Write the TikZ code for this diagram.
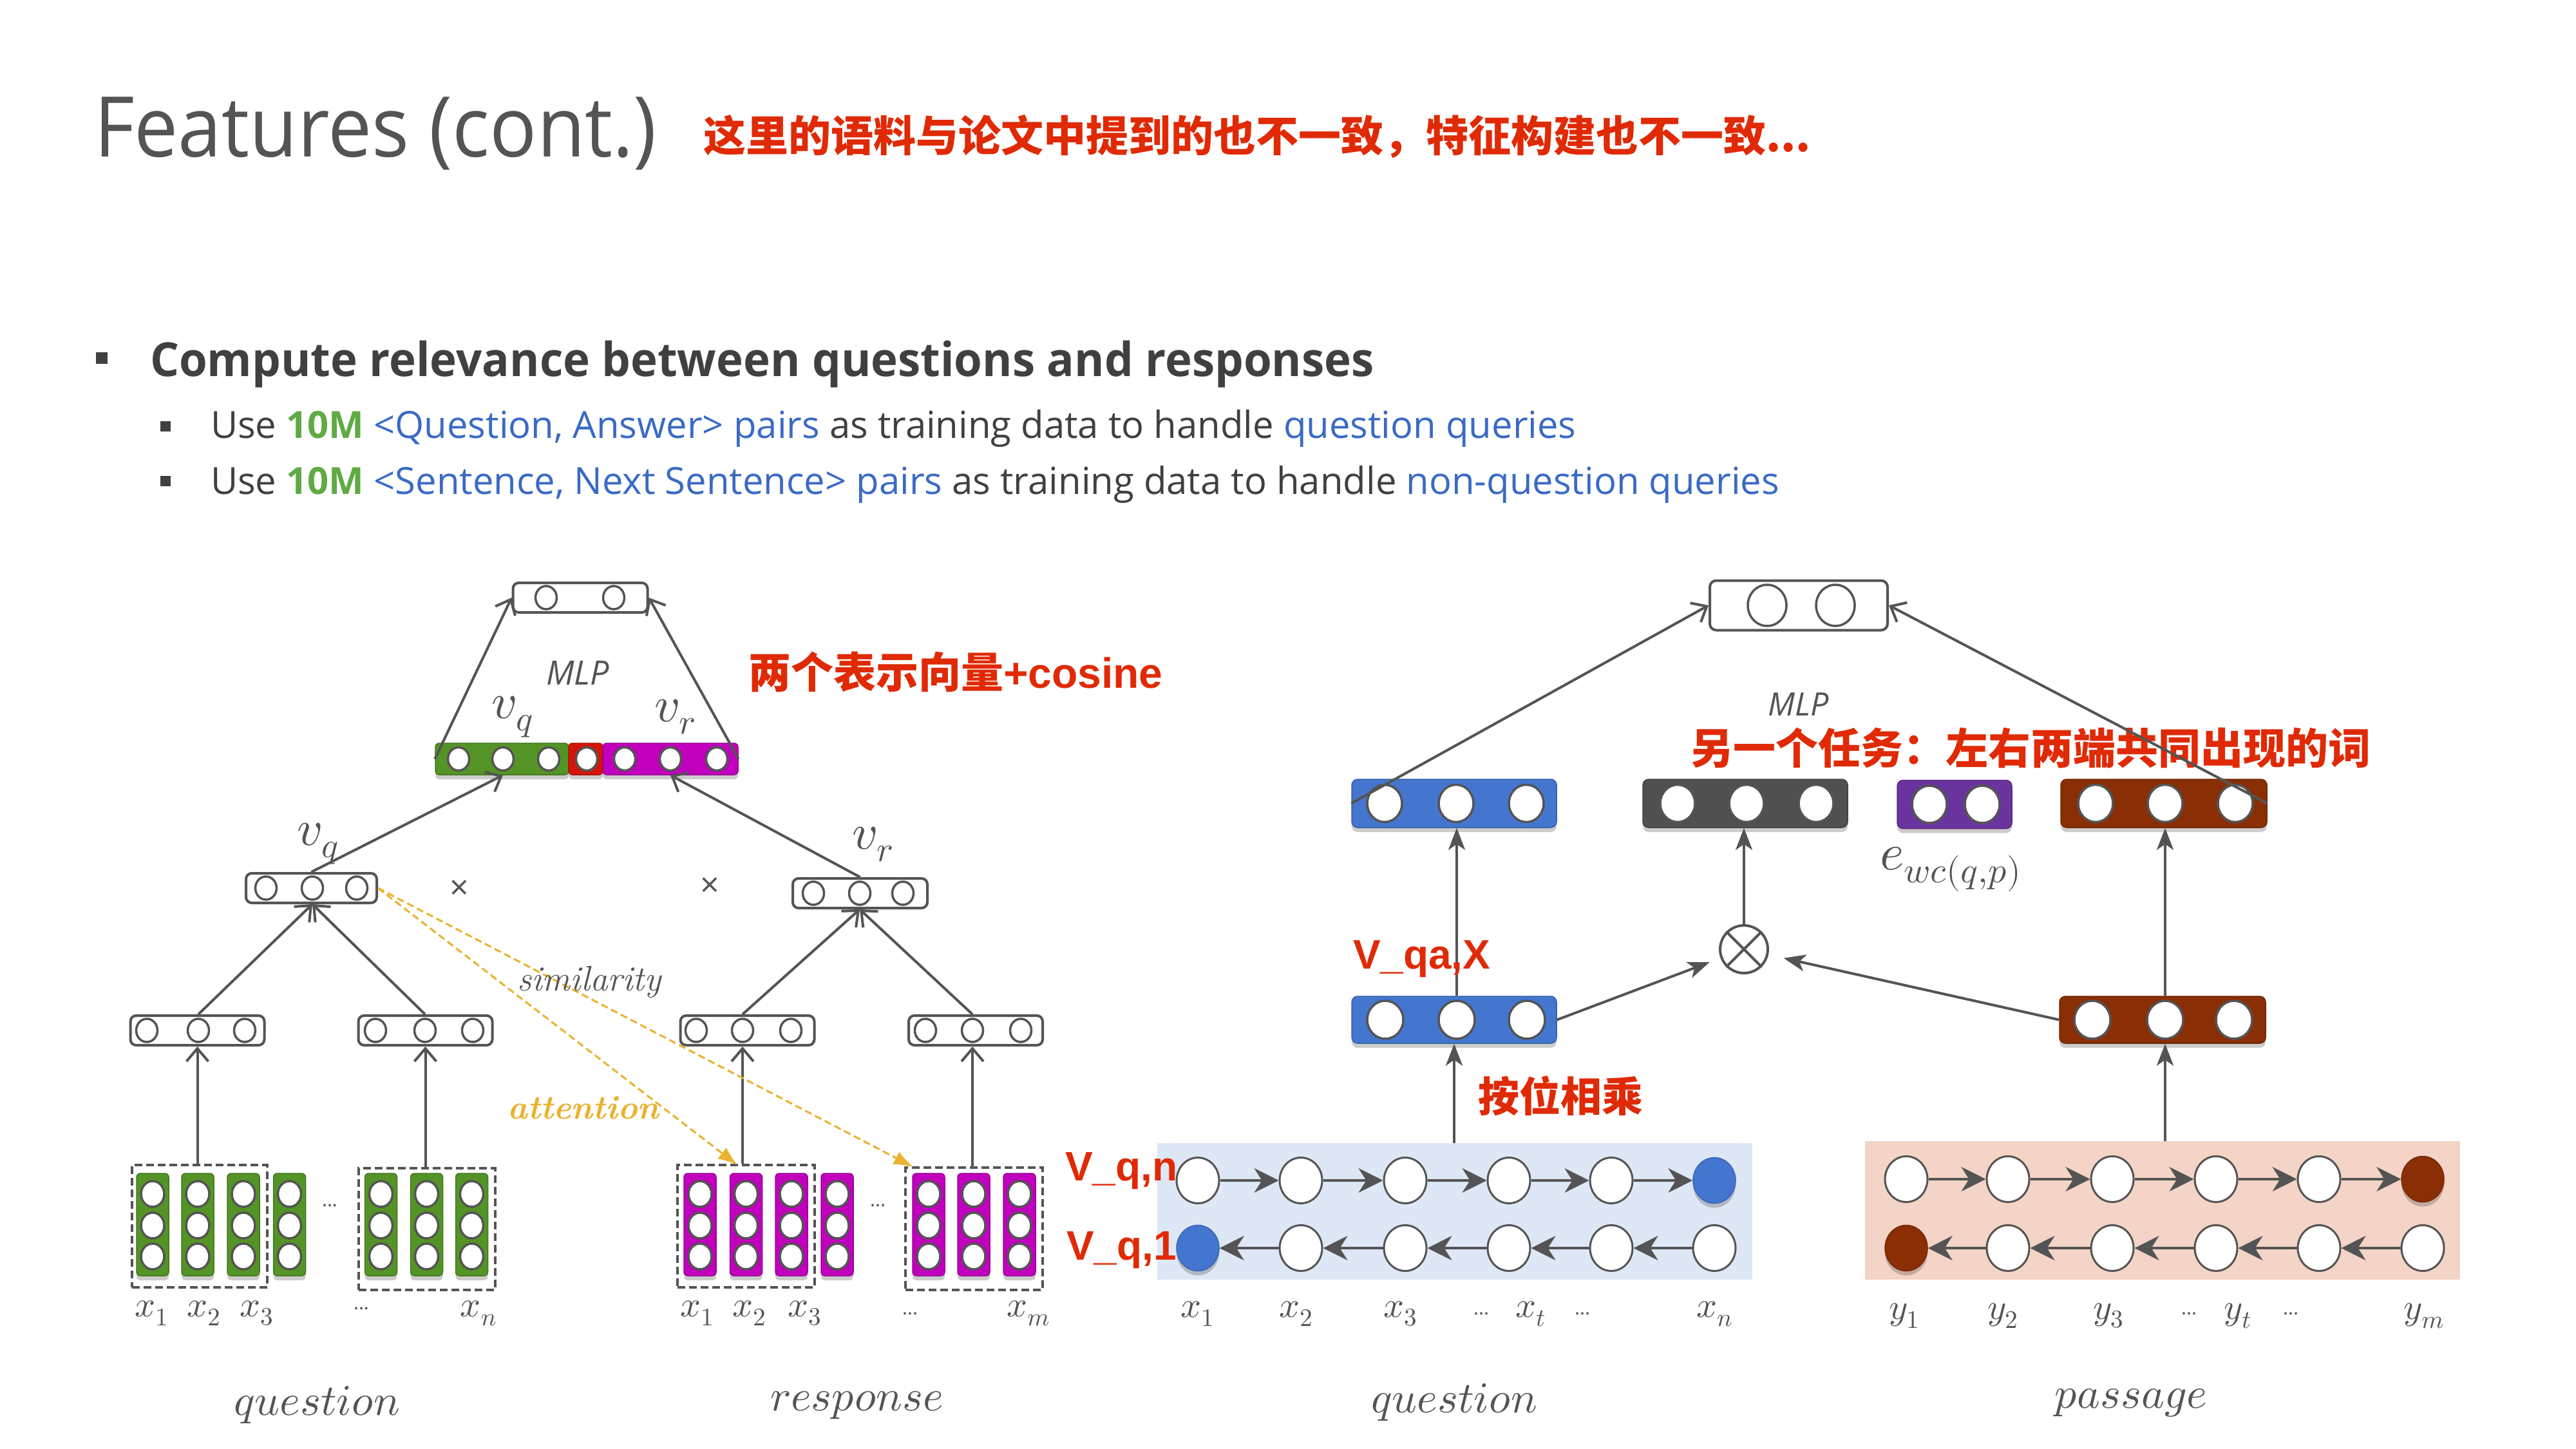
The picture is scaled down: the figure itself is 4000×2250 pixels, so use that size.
\documentclass[tikz,border=0pt]{standalone}
\usepackage{fontspec}
\usepackage{unicode-math}
\setmathfont{Latin Modern Math}
\usetikzlibrary{arrows.meta,shadows,calc,shapes.geometric}

\newfontfamily\titlesans{Open Sans}[FakeStretch=0.935]
\newfontfamily\headsans{Open Sans}[FakeStretch=0.97]
\newfontfamily\osans{Open Sans}
\newfontfamily\cjk{Noto Sans CJK SC}
\newfontfamily\helv{Liberation Sans}
\newcommand\fsz[1]{\fontsize{#1}{#1}\selectfont}

\definecolor{ink}{RGB}{84,84,84}
\definecolor{bodyink}{RGB}{64,64,64}
\definecolor{warn}{RGB}{224,42,6}
\definecolor{tengreen}{RGB}{96,170,70}
\definecolor{linkblue}{RGB}{58,106,196}
\definecolor{qgreen}{RGB}{84,148,38}
\definecolor{rmag}{RGB}{192,0,188}
\definecolor{cred}{RGB}{212,22,8}
\definecolor{bluebox}{RGB}{68,118,208}
\definecolor{graybox}{RGB}{80,80,80}
\definecolor{purplebox}{RGB}{106,52,158}
\definecolor{brownbox}{RGB}{138,46,6}
\definecolor{qbg}{RGB}{222,231,245}
\definecolor{pbg}{RGB}{244,212,198}
\definecolor{gold}{RGB}{234,178,46}

\tikzset{
  txt/.style={inner sep=0pt, outer sep=0pt},
  conn/.style={draw=ink, line width=4pt},
  rconn/.style={draw=ink, line width=3.5pt},
  openarr/.style={-{Straight Barb[length=20pt,width=34pt]}},
  solidarr/.style={-{Stealth[length=34pt,width=26pt,inset=9pt]}},
  rnnarr/.style={-{Stealth[length=38pt,width=38pt,inset=12pt]}},
  wbox/.style={draw=ink, line width=4pt, fill=white, rounded corners=9pt, inner sep=0pt, minimum height=46pt},
  wcell/.style={ellipse, draw=ink, line width=3.5pt, fill=white, inner sep=0pt, minimum width=33pt, minimum height=36pt},
  softshadow/.style={drop shadow={shadow xshift=0pt, shadow yshift=-7pt, opacity=.2, fill=black}},
  seg/.style={fill=#1, draw=#1!80!black, line width=1.5pt, rounded corners=6pt, inner sep=0pt, minimum height=49pt, softshadow},
  colbar/.style={fill=#1, draw=#1!80!black, line width=1.5pt, rounded corners=6pt, inner sep=0pt, minimum width=50pt, minimum height=159pt, softshadow},
  ccell/.style={ellipse, draw=ink, line width=3.5pt, fill=white, inner sep=0pt, minimum width=36pt, minimum height=40pt},
  dbox/.style={draw=ink, line width=3.5pt, dash pattern=on 12pt off 6pt, inner sep=0pt},
  attn/.style={draw=gold, line width=3pt, dash pattern=on 11pt off 6pt, -{Latex[length=30pt,width=22pt]}},
  cbox/.style={fill=#1, draw=#1!80!black, line width=1.5pt, rounded corners=9pt, inner sep=0pt, minimum width=318pt, minimum height=75pt, softshadow},
  ucell/.style={ellipse, draw=ink, line width=3.5pt, fill=white, inner sep=0pt, minimum width=54pt, minimum height=58pt},
  rcell/.style={ellipse, draw=ink, line width=3pt, fill=white, inner sep=0pt, minimum width=66pt, minimum height=71pt},
  rend/.style={ellipse, fill=#1, draw=#1!85!black, line width=1.5pt, inner sep=0pt, minimum width=66pt, minimum height=71pt, softshadow},
  mathlbl/.style={txt, text=ink, font={\fsz{56}}},
  dots/.style={txt, text=ink, font={\osans\fsz{30}}},
  redcjk/.style={txt, text=warn, font={\cjk\bfseries\fsz{66}}},
  redlat/.style={txt, text=warn, font={\helv\bfseries\fsz{64}}},
}

% one embedding column: name, colour, x
\newcommand\embcol[3]{%
  \node[colbar=#2] (#1) at (#3,1901.5) {};
  \node[ccell] (#1-1) at (#3,1854) {};
  \node[ccell] (#1-2) at (#3,1903) {};
  \node[ccell] (#1-3) at (#3,1951) {};
}

\begin{document}
\begin{tikzpicture}[x=1pt,y=-1pt]
\useasboundingbox (0,0) rectangle (4000,2250);
\fill[white] (0,0) rectangle (4000,2250);

% ---------------- heading ----------------
\node[txt, anchor=base west, text=ink] (title) at (146,244) {\titlesans\fsz{130}Features (cont.)};
\node[redcjk, anchor=base west] (note) at (1092,236) {这里的语料与论文中提到的也不一致，特征构建也不一致...};

% ---------------- bullets ----------------
\fill[bodyink] (149,547) rectangle (167,565);
\node[txt, anchor=base west, text=bodyink] (b1) at (233,584) {\headsans\bfseries\fsz{73}Compute relevance between questions and responses};
\fill[bodyink] (249,654) rectangle (265,670);
\node[txt, anchor=base west, text=bodyink] (b2) at (327,680) {\osans\fsz{58}Use \textcolor{tengreen}{\bfseries 10M} \textcolor{linkblue}{<Question, Answer> pairs} as training data to handle \textcolor{linkblue}{question queries}};
\fill[bodyink] (249,739) rectangle (265,755);
\node[txt, anchor=base west, text=bodyink] (b3) at (327,767) {\osans\fsz{58}Use \textcolor{tengreen}{\bfseries 10M} \textcolor{linkblue}{<Sentence, Next Sentence> pairs} as training data to handle \textcolor{linkblue}{non-question queries}};

% ================= left model =================
% MLP on the concatenated vector
\node[wbox, minimum width=209pt] (mlpL) at (901,928) {};
\node[wcell] (mlpL1) at (848,928) {};
\node[wcell] (mlpL2) at (953,928) {};
\node[txt, text=ink] (mlpLlbl) at (897,1045) {\osans\itshape\fsz{52}MLP};

\node[seg=qgreen, minimum width=207pt] (gbar) at (779.5,1178.5) {};
\node[seg=cred, minimum width=53pt] (rbar) at (909.5,1178.5) {};
\node[seg=rmag, minimum width=210pt] (mbar) at (1041,1178.5) {};
\foreach \i/\x in {1/712,2/781,3/852,4/911,5/970,6/1041,7/1113}
  \node[wcell] (c\i) at (\x,1178.5) {};
\node[txt, text=ink] (vqtop) at (796,1113) {\fsz{78}$v_q$};
\node[txt, text=ink] (vrtop) at (1048,1113) {\fsz{78}$v_r$};

\draw[conn, openarr] (gbar.west) -- (mlpL.west);
\draw[conn, openarr] (mbar.east) -- (mlpL.east);

\node[redcjk, anchor=west] (cosnote) at (1162,1043) {两个表示向量{\helv\bfseries +cosine}};

% sentence vectors
\node[wbox, minimum width=203pt] (qtop) at (483.5,1379) {};
\foreach \i/\x in {1/413,2/485,3/554} \node[wcell] (qt\i) at (\x,1379) {};
\node[wbox, minimum width=209pt] (rtop) at (1335.5,1387) {};
\foreach \i/\x in {1/1263,2/1335,3/1402} \node[wcell] (rt\i) at (\x,1387) {};
\node[txt, text=ink] (vqlow) at (494,1310) {\fsz{78}$v_q$};
\node[txt, text=ink] (vrlow) at (1355,1311) {\fsz{78}$v_r$};
\node[txt, text=ink] (mulq) at (713,1382) {\osans\fsz{52}×};
\node[txt, text=ink] (mulr) at (1102,1378) {\osans\fsz{52}×};

\draw[conn, openarr] (qtop.north) -- (c2 |- gbar.south);
\draw[conn, openarr] (rtop.north) -- (c6 |- mbar.south);

% phrase vectors
\foreach \n/\c/\a/\b/\d in {qm1/306.5/228/308/380, qm2/660.5/583/660/734, rm1/1160.5/1081/1153/1228, rm2/1515/1437/1510/1585} {
  \node[wbox, minimum width=208pt] (\n) at (\c,1600) {};
  \node[wcell] (\n-1) at (\a,1600) {};
  \node[wcell] (\n-2) at (\b,1600) {};
  \node[wcell] (\n-3) at (\d,1600) {};
}
\draw[conn, openarr] (qm1-2 |- qm1.north) -- (qt2 |- qtop.south);
\draw[conn, openarr] (qm2-2 |- qm2.north) -- (qt2 |- qtop.south);
\draw[conn, openarr] (rm1-2 |- rm1.north) -- (rt2 |- rtop.south);
\draw[conn, openarr] (rm2-2 |- rm2.north) -- (rt2 |- rtop.south);

% word embeddings
\embcol{qa1}{qgreen}{237}
\embcol{qa2}{qgreen}{307}
\embcol{qa3}{qgreen}{378}
\embcol{qa4}{qgreen}{449.5}
\embcol{qb1}{qgreen}{591.5}
\embcol{qb2}{qgreen}{662.5}
\embcol{qb3}{qgreen}{732.5}
\embcol{ra1}{rmag}{1087}
\embcol{ra2}{rmag}{1158.5}
\embcol{ra3}{rmag}{1229}
\embcol{ra4}{rmag}{1300}
\embcol{rb1}{rmag}{1442}
\embcol{rb2}{rmag}{1512}
\embcol{rb3}{rmag}{1583}

\node[dbox, minimum width=210pt, minimum height=190pt] (qg1) at (310,1904) {};
\node[dbox, minimum width=212pt, minimum height=189pt] (qg2) at (663,1908.5) {};
\node[dbox, minimum width=213pt, minimum height=190pt] (rg1) at (1158.5,1904) {};
\node[dbox, minimum width=213pt, minimum height=190pt] (rg2) at (1512.5,1908) {};
\node[dots] (qdots) at (512,1872) {...};
\node[dots] (rdots) at (1363,1872) {...};

\draw[conn, openarr] (qm1 |- qg1.north) -- (qm1.south);
\draw[conn, openarr] (qm2 |- qg2.north) -- (qm2.south);
\draw[conn, openarr] (rm1-2 |- rg1.north) -- (rm1-2 |- rm1.south);
\draw[conn, openarr] (rm2-2 |- rg2.north) -- (rm2-2 |- rm2.south);

% attention links
\coordinate (att1) at (1145,1809);
\coordinate (att2) at (1418,1812);
\draw[attn] (qtop.east) -- (att1);
\draw[attn] (qtop.east) -- (att2);
\node[txt, text=ink] (simlbl) at (915,1525) {\fsz{55}\itshape similarity};
\node[txt, text=gold] (attlbl) at (906,1720) {\fsz{52}\bfseries\itshape attention};

% token labels
\node[mathlbl] (lx1) at (236,2039) {$x_1$};
\node[mathlbl] (lx2) at (317,2039) {$x_2$};
\node[mathlbl] (lx3) at (399,2039) {$x_3$};
\node[dots] (lxd) at (561,2032) {...};
\node[mathlbl] (lxn) at (743,2039) {$x_n$};
\node[mathlbl] (rx1) at (1083,2039) {$x_1$};
\node[mathlbl] (rx2) at (1164,2039) {$x_2$};
\node[mathlbl] (rx3) at (1250,2039) {$x_3$};
\node[dots] (rxd) at (1413,2040) {...};
\node[mathlbl] (rxm) at (1597,2039) {$x_m$};
\node[txt, text=ink] (qname) at (492,2182) {\fsz{68}$question$};
\node[txt, text=ink] (rname) at (1331,2182) {\fsz{68}$response$};

% ================= right model =================
\node[wbox, minimum width=276pt, minimum height=77pt, rounded corners=10pt] (mlpR) at (2793,940) {};
\node[ucell, minimum width=60pt, minimum height=64pt] (mlpR1) at (2744,940) {};
\node[ucell, minimum width=60pt, minimum height=64pt] (mlpR2) at (2850,940) {};
\node[txt, text=ink] (mlpRlbl) at (2793,1094) {\osans\itshape\fsz{50}MLP};
\node[redcjk, anchor=west] (task) at (2625,1161) {另一个任务：左右两端共同出现的词};

\node[cbox=bluebox] (ub) at (2258,1247.5) {};
\foreach \i/\x in {1/2150,2/2261,3/2370} \node[ucell] (ub\i) at (\x,1247.5) {};
\node[cbox=graybox] (ug) at (2710,1247.5) {};
\foreach \i/\x in {1/2605,2/2712,3/2820} \node[ucell] (ug\i) at (\x,1247.5) {};
\node[cbox=purplebox, minimum width=178pt] (up) at (3035,1249) {};
\foreach \i/\x in {1/2996,2/3078} \node[ucell] (up\i) at (\x,1249) {};
\node[cbox=brownbox, minimum width=320pt] (ubr) at (3360,1247.5) {};
\foreach \i/\x in {1/3254,2/3362,3/3471} \node[ucell] (ubr\i) at (\x,1247.5) {};
\node[txt, text=ink] (ewc) at (3029,1350) {\fsz{80}$e_{wc(q,p)}$};

\draw[conn, openarr] (ub.west) -- (mlpR.west);
\draw[conn, openarr] (ubr.east) -- (mlpR.east);

% encoder outputs and the product
\node[cbox=bluebox, minimum height=73pt] (lb) at (2258,1583.5) {};
\foreach \i/\x in {1/2151,2/2262,3/2371} \node[ucell, minimum width=56pt, minimum height=59pt] (lb\i) at (\x,1583.5) {};
\node[cbox=brownbox, minimum width=320pt, minimum height=73pt] (lbr) at (3358,1583.5) {};
\foreach \i/\x in {1/3249,2/3362,3/3469} \node[ucell, minimum width=56pt, minimum height=59pt] (lbr\i) at (\x,1583.5) {};
\node[circle, draw=ink, line width=4pt, minimum size=74pt, inner sep=0pt] (otimes) at (2708,1474) {};
\draw[ink, line width=4pt] (otimes.north west) -- (otimes.south east) (otimes.north east) -- (otimes.south west);

\draw[conn, solidarr] (lb2 |- lb.north) -- (lb2 |- ub.south);
\draw[conn, solidarr] (otimes.north) -- (otimes |- ug.south);
\draw[conn, solidarr] (lbr2 |- lbr.north) -- (lbr2 |- ubr.south);
\draw[conn, solidarr, shorten >=18pt] (lb.east) -- (otimes);
\draw[conn, solidarr, shorten >=24pt] (lbr.west) -- (otimes);

\node[redlat, anchor=base west] (vqax) at (2101,1504) {V\_qa,X};
\node[redcjk, anchor=west, font={\cjk\bfseries\fsz{64}}] (bitmul) at (2295,1702) {按位相乘};

% bidirectional encoders
\node[fill=qbg, minimum width=924pt, minimum height=212pt, inner sep=0pt] (qrnn) at (2259,1881) {};
\node[fill=pbg, minimum width=924pt, minimum height=215pt, inner sep=0pt] (prnn) at (3358,1879.5) {};
\draw[conn, solidarr] (qrnn.north -| lb) -- (lb.south);
\draw[conn, solidarr] (prnn.north -| lbr2) -- (lbr2 |- lbr.south);

\foreach \i/\x in {1/1860,2/2020,3/2182,4/2343,5/2502} \node[rcell] (qf\i) at (\x,1833) {};
\node[rend=bluebox] (qf6) at (2662,1833) {};
\node[rend=bluebox] (qb1) at (1860,1938) {};
\foreach \i/\x in {2/2020,3/2182,4/2343,5/2502,6/2662} \node[rcell] (qb\i) at (\x,1938) {};

\foreach \i/\x in {1/2960,2/3118,3/3280,4/3441,5/3601} \node[rcell] (pf\i) at (\x,1831) {};
\node[rend=brownbox] (pf6) at (3762,1831) {};
\node[rend=brownbox] (pb1) at (2960,1938) {};
\foreach \i/\x in {2/3118,3/3280,4/3441,5/3601,6/3762} \node[rcell] (pb\i) at (\x,1938) {};

\foreach \a/\b in {1/2,2/3,3/4,4/5,5/6} {
  \draw[rconn, rnnarr] (qf\a.east) -- (qf\b.west);
  \draw[rconn, rnnarr] (qb\b.west) -- (qb\a.east);
  \draw[rconn, rnnarr] (pf\a.east) -- (pf\b.west);
  \draw[rconn, rnnarr] (pb\b.west) -- (pb\a.east);
}

\node[redlat, anchor=base west] (vqn) at (1654,1833) {V\_q,n};
\node[redlat, anchor=base west] (vq1) at (1656,1956) {V\_q,1};

\node[mathlbl] (qx1) at (1860,2040) {$x_1$};
\node[mathlbl] (qx2) at (2013,2040) {$x_2$};
\node[mathlbl] (qx3) at (2175,2040) {$x_3$};
\node[dots] (qxd1) at (2300,2040) {...};
\node[mathlbl] (qxt) at (2377,2040) {$x_t$};
\node[dots] (qxd2) at (2457,2040) {...};
\node[mathlbl] (qxn) at (2662,2040) {$x_n$};
\node[txt, text=ink] (qname2) at (2258,2178) {\fsz{68}$question$};

\node[mathlbl] (py1) at (2957,2043) {$y_1$};
\node[mathlbl] (py2) at (3110,2043) {$y_2$};
\node[mathlbl] (py3) at (3274,2043) {$y_3$};
\node[dots] (pyd1) at (3399,2040) {...};
\node[mathlbl] (pyt) at (3475,2043) {$y_t$};
\node[dots] (pyd2) at (3557,2040) {...};
\node[mathlbl] (pym) at (3764,2043) {$y_m$};
\node[txt, text=ink] (pname) at (3309,2178) {\fsz{68}$passage$};

\end{tikzpicture}
\end{document}
